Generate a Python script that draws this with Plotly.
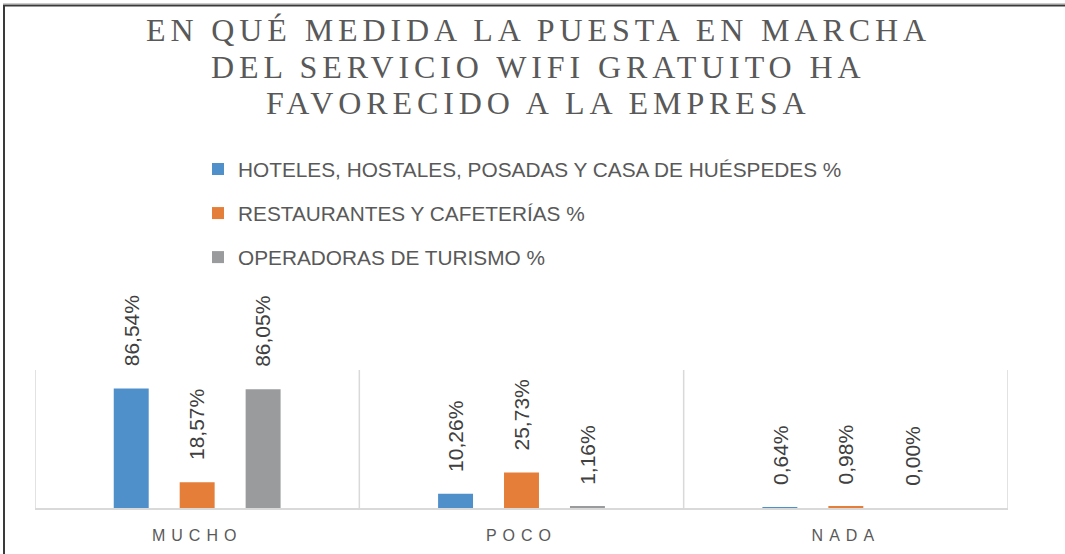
import plotly.graph_objects as go

# Data
categories = ['MUCHO', 'POCO', 'NADA']
series_names = [
    'HOTELES, HOSTALES, POSADAS Y CASA DE HUÉSPEDES %',
    'RESTAURANTES Y CAFETERÍAS %',
    'OPERADORAS DE TURISMO %',
]
hoteles = [86.54, 10.26, 0.64]
restaurantes = [18.57, 25.73, 0.98]
operadoras = [86.05, 1.16, 0.00]
colors = ['#5090CA', '#E57E39', '#999B9D']

title_lines = [
    'EN QUÉ MEDIDA LA PUESTA EN MARCHA',
    'DEL SERVICIO WIFI GRATUITO HA',
    'FAVORECIDO A LA EMPRESA',
]

W, H = 1065, 554
ML, MR, MT, MB = 35, 57, 370, 46
BARGAP = 0.39
GROUPGAP = 0.47


# pixel -> paper helpers (for frame, legend and title placement)
def px_x(p):
    return (p - ML) / (W - ML - MR)


def px_y(p):
    return (H - MB - p) / (H - MT - MB)


def spaced(txt, ls):
    return f'<span style="letter-spacing:{ls}px">{txt}</span>'


fig = go.Figure()
all_series = [hoteles, restaurantes, operadoras]
for j, (name, vals) in enumerate(zip(series_names, all_series)):
    fig.add_trace(go.Bar(
        x=categories,
        y=vals,
        name=name,
        legendgroup=f'g{j}',
        marker=dict(color=colors[j], line=dict(width=0)),
        hoverinfo='skip',
    ))

# value labels, rotated, sitting above each bar
slot = (1 - BARGAP) / len(all_series)
annotations = []
for j, vals in enumerate(all_series):
    for i, v in enumerate(vals):
        annotations.append(dict(
            x=i + (j - 1) * slot,
            y=v,
            xref='x', yref='y',
            text=f'{v:.2f}%'.replace('.', ','),
            textangle=-90,
            showarrow=False,
            xanchor='center', yanchor='bottom',
            yshift=20,
            font=dict(family='Liberation Sans, Arial', size=21, color='#404040'),
        ))

# title lines as annotations so the line spacing matches
title_centers = [30, 67, 103]
for t, yc in zip(title_lines, title_centers):
    annotations.append(dict(
        x=px_x(538), y=px_y(yc),
        xref='paper', yref='paper',
        text=spaced(t, 4.9),
        showarrow=False,
        xanchor='center', yanchor='middle',
        font=dict(family='Liberation Serif, Times New Roman', size=32, color='#595959'),
    ))

# category separators
shapes = []
for k in range(len(categories) + 1):
    shapes.append(dict(
        type='line', xref='x', yref='paper',
        x0=k - 0.5, x1=k - 0.5, y0=0, y1=1,
        line=dict(color='#D9D9D9', width=1.5),
    ))

# outer frame (top and left edges only, as in the reference)
shapes.append(dict(type='line', xref='paper', yref='paper',
                   x0=px_x(3), x1=px_x(W), y0=px_y(3.5), y1=px_y(3.5),
                   line=dict(color='#CCCCCC', width=1)))
shapes.append(dict(type='line', xref='paper', yref='paper',
                   x0=px_x(3), x1=px_x(W), y0=px_y(5.5), y1=px_y(5.5),
                   line=dict(color='#3A3A3A', width=2)))
shapes.append(dict(type='line', xref='paper', yref='paper',
                   x0=px_x(4), x1=px_x(4), y0=px_y(5), y1=px_y(H),
                   line=dict(color='#3A3A3A', width=2)))

fig.update_layout(
    width=W, height=H,
    margin=dict(l=ML, r=MR, t=MT, b=MB, autoexpand=False),
    paper_bgcolor='white',
    plot_bgcolor='white',
    barmode='group',
    bargap=BARGAP,
    bargroupgap=GROUPGAP,
    legend=dict(
        x=px_x(198), y=px_y(149),
        xanchor='left', yanchor='top',
        orientation='v',
        traceorder='grouped',
        tracegroupgap=14,
        font=dict(family='Liberation Sans, Arial', size=20.8, color='#595959'),
        bgcolor='rgba(0,0,0,0)',
    ),
    xaxis=dict(
        type='category',
        range=[-0.5, 2.5],
        tickvals=categories,
        ticktext=[spaced(c, 6) for c in categories],
        tickangle=0,
        showline=True, linecolor='#D9D9D9', linewidth=1.5,
        showgrid=False, zeroline=False,
        ticks='outside', ticklen=12, tickcolor='rgba(0,0,0,0)',
        tickfont=dict(family='Liberation Sans, Arial', size=16, color='#595959'),
        fixedrange=True,
    ),
    yaxis=dict(
        range=[0, 100],
        visible=False,
        showgrid=False,
        fixedrange=True,
    ),
    annotations=annotations,
    shapes=shapes,
    showlegend=True,
)

# drop the page's default body margin so the figure sits at the window origin
fig.write_html('out.html', config={'displayModeBar': False},
               post_script="document.body.style.margin='0';")
